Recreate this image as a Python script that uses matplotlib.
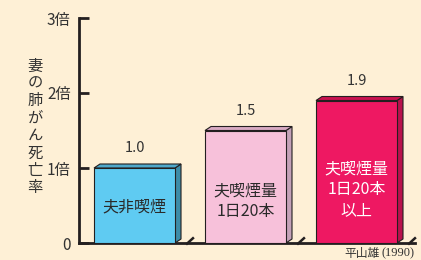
import matplotlib
matplotlib.use("Agg")
import matplotlib.pyplot as plt
from matplotlib.patches import Polygon

plt.rcParams['font.family'] = ['Noto Sans CJK JP', 'DejaVu Sans']

categories = ["夫非喫煙", "夫喫煙量\n1日20本", "夫喫煙量\n1日20本\n以上"]
values = [1.0, 1.5, 1.9]
value_labels = ["1.0", "1.5", "1.9"]
yticks = [0, 1, 2, 3]
ytick_labels = ["0", "1倍", "2倍", "3倍"]
ylabel = "妻の肺がん死亡率"
source_name = "平山雄"
source_year = "(1990)"

front_colors = ["#5FCBF2", "#F7C1DA", "#EE1862"]
side_colors = ["#3D8CA8", "#C4A2B8", "#B9114C"]
top_colors = ["#4FA8CA", "#D8AAC3", "#C9124F"]
text_colors = ["#2a2a2a", "#2a2a2a", "#ffffff"]
label_y = [0.48, 0.56, 0.71]

bg = "#FEF0D6"
ink = "#231F20"
txt = "#333333"

W, H = 421, 260
fig = plt.figure(figsize=(W / 100, H / 100), dpi=100, facecolor=bg)
ax_left, ax_right = 79, 415
ax_top, ax_bot = 18, 243
ax = fig.add_axes([ax_left / W, (H - ax_bot) / H, (ax_right - ax_left) / W, (ax_bot - ax_top) / H])
ax.set_facecolor(bg)
ax.patch.set_alpha(0)

spacing_px = 111
x = list(range(len(values)))
xl = -(134.5 - ax_left) / spacing_px
ax.set_xlim(xl, xl + (ax_right - ax_left) / spacing_px)
ax.set_ylim(0, 3)

bw = 81 / spacing_px
dx = 6 / spacing_px
dy = 4 / 75

for i, v in enumerate(values):
    x0 = x[i] - bw / 2
    x1 = x[i] + bw / 2
    ax.add_patch(Polygon([(x1, 0), (x1 + dx, dy), (x1 + dx, v + dy), (x1, v)],
                         closed=True, facecolor=side_colors[i], edgecolor=ink, lw=0.8, zorder=2, clip_on=False))
    ax.add_patch(Polygon([(x0, v), (x0 + dx, v + dy), (x1 + dx, v + dy), (x1, v)],
                         closed=True, facecolor=top_colors[i], edgecolor=ink, lw=0.8, zorder=2, clip_on=False))
ax.bar(x, values, width=bw, color=front_colors, edgecolor=ink, linewidth=0.8, zorder=3)

for i, v in enumerate(values):
    ax.text(x[i], v + 0.26, value_labels[i], ha='center', va='center', fontsize=10.5, color=txt)
    ax.text(x[i], label_y[i], categories[i], ha='center', va='center', fontsize=11.5,
            color=text_colors[i], linespacing=1.3, zorder=4)

for s in ['top', 'right']:
    ax.spines[s].set_visible(False)
for s in ['left', 'bottom']:
    ax.spines[s].set_linewidth(2)
    ax.spines[s].set_color(ink)
ax.set_xticks([])
ax.set_yticks(yticks)
ax.set_yticklabels(ytick_labels, fontsize=11, color=txt)
ax.tick_params(axis='y', direction='in', length=7, width=2, color=ink, pad=6)

for bx in [0.5, 1.5, 2.5]:
    ax.plot([bx - 0.035, bx + 0.035], [-0.02, 0.075], color=ink, lw=1.8, zorder=5, clip_on=False,
            solid_capstyle='butt')

fig.text(35 / W, 1 - 127 / H, "\n".join(ylabel), ha='center', va='center', fontsize=11,
         color=txt, linespacing=1.03)

t_year = fig.text(415 / W, 1 - 253 / H, source_year, ha='right', va='center', fontsize=9,
                  color=txt, family='Liberation Serif')
fig.canvas.draw()
bb = t_year.get_window_extent()
fig.text((bb.x0 - 2) / W, 1 - 253 / H, source_name, ha='right', va='center', fontsize=8.5, color=txt)

fig.savefig("out.png", dpi=100, facecolor=bg)
